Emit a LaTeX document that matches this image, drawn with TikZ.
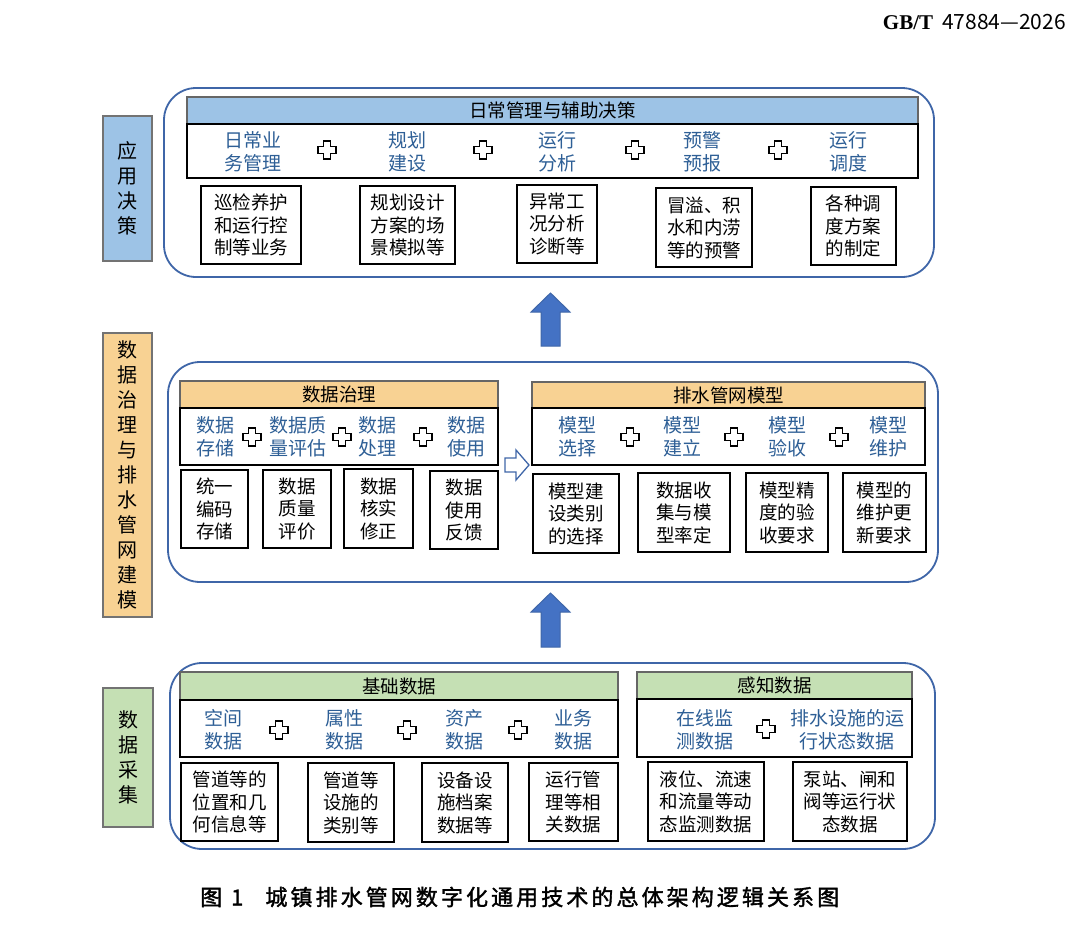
\documentclass[tikz,border=0pt]{standalone}
\usepackage{fontspec}
\setmainfont{Noto Sans CJK SC}
\newfontfamily\capfont[LetterSpace=14,FakeBold=1.6]{Noto Sans CJK SC}
\newfontfamily\gbserif{Liberation Serif}
\newfontfamily\gbsans{Noto Sans CJK SC}
\newcommand\dfnt{\fontsize{18.5}{22.5}\selectfont}
\newcommand\bfnt{\fontsize{19}{23}\selectfont}
\newcommand\hfnt{\fontsize{18.5}{22}\selectfont}
\newcommand\lfnt{\fontsize{20}{25}\selectfont}
\definecolor{lblue}{HTML}{9DC3E6}
\definecolor{lorange}{HTML}{F8D293}
\definecolor{lgreen}{HTML}{C5E0B4}
\definecolor{outblue}{HTML}{3F66A8}
\definecolor{txtblue}{HTML}{2E5F96}
\definecolor{arrblue}{HTML}{4472C4}
\usetikzlibrary{positioning}
\tikzset{
  outerbox/.style={draw=outblue, line width=1.8pt, rounded corners=32pt},
  lab/.style={draw=black!55, line width=1.3pt, inner sep=0pt, align=center, font=\lfnt},
  hdr/.style={draw=black!60, line width=1.2pt, inner sep=0pt, font=\hfnt},
  rowbox/.style={draw=black, line width=1.6pt, fill=white, inner sep=0pt},
  det/.style={draw=black, line width=1.6pt, fill=white, inner sep=0pt, align=center, font=\dfnt},
  btxt/.style={text=txtblue, align=center, font=\bfnt, inner sep=0pt},
  plusline/.style={draw=black, line width=1.9pt, fill=white, line join=miter},
  uparrowshape/.style={fill=arrblue, draw=outblue, line width=1pt},
  hollowarrow/.style={fill=white, draw=outblue, line width=1.3pt},
  pluscross/.pic={\path[plusline] (-3.5,-9) -- (3.5,-9) -- (3.5,-3.5) -- (9,-3.5) -- (9,3.5) -- (3.5,3.5) -- (3.5,9) -- (-3.5,9) -- (-3.5,3.5) -- (-9,3.5) -- (-9,-3.5) -- (-3.5,-3.5) -- cycle;}
}
\begin{document}
\begin{tikzpicture}[x=1pt,y=-1pt]
\useasboundingbox[fill=white] (0,0) rectangle (1080,927);

% header reference
\node[anchor=east, inner sep=0pt] (gbt) at (1066,22) {\fontsize{21}{21}\selectfont{\gbserif\bfseries GB/T}\hspace{9pt}{\gbsans 47884—2026}};

% ===== top section =====
\node[lab, fill=lblue, minimum width=49, minimum height=145] (lab1) at (127.5,188.5) {应\\用\\决\\策};
\node[outerbox, minimum width=770, minimum height=189] (out1) at (549,182.5) {};
\node[hdr, fill=lblue, minimum width=731, minimum height=27] (hd1) at (552.5,110.5) {日常管理与辅助决策};
\node[rowbox, minimum width=731, minimum height=54] (row1) at (552.5,151) {};
\node[btxt] (a1) at (253,151.5) {日常业\\务管理};
\node[btxt] (a2) at (407,151.5) {规划\\建设};
\node[btxt] (a3) at (557,151.5) {运行\\分析};
\node[btxt] (a4) at (702,151.5) {预警\\预报};
\node[btxt] (a5) at (848,151.5) {运行\\调度};
\pic at (327,150) {pluscross};
\pic at (483,150) {pluscross};
\pic at (635,150) {pluscross};
\pic at (778,150) {pluscross};
\node[det, minimum width=100, minimum height=78] (t1) at (251,225) {巡检养护\\和运行控\\制等业务};
\node[det, minimum width=95, minimum height=78] (t2) at (407.5,225) {规划设计\\方案的场\\景模拟等};
\node[det, minimum width=80, minimum height=78] (t3) at (557,224) {异常工\\况分析\\诊断等};
\node[det, minimum width=96, minimum height=79] (t4) at (704,227.5) {冒溢、积\\水和内涝\\等的预警};
\node[det, minimum width=85, minimum height=78] (t5) at (853.5,226) {各种调\\度方案\\的制定};

% up arrow 1
\path[uparrowshape] (550.5,293) -- (570,312) -- (560,312) -- (560,346) -- (541,346) -- (541,312) -- (531,312) -- cycle;

% ===== middle section =====
\node[lab, fill=lorange, minimum width=49, minimum height=284] (lab2) at (127.5,475) {数\\据\\治\\理\\与\\排\\水\\管\\网\\建\\模};
\node[outerbox, minimum width=770, minimum height=220] (out2) at (553,472) {};
\node[hdr, fill=lorange, minimum width=318, minimum height=27] (hdL) at (339,394.5) {数据治理};
\node[rowbox, minimum width=318, minimum height=57] (rowL) at (339,436.5) {};
\node[btxt] (g1) at (215,437) {数据\\存储};
\node[btxt] (g2) at (298,437) {数据质\\量评估};
\node[btxt] (g3) at (377,437) {数据\\处理};
\node[btxt] (g4) at (466,437) {数据\\使用};
\pic at (252,437) {pluscross};
\pic at (342,437) {pluscross};
\pic at (423,437) {pluscross};
\node[det, minimum width=67, minimum height=78] (m1) at (214.5,509) {统一\\编码\\存储};
\node[det, minimum width=68, minimum height=78] (m2) at (297,509) {数据\\质量\\评价};
\node[det, minimum width=69, minimum height=79] (m3) at (378.5,508.5) {数据\\核实\\修正};
\node[det, minimum width=68, minimum height=78] (m4) at (464,510) {数据\\使用\\反馈};

\path[hollowarrow] (505,458) -- (516,458) -- (516,450) -- (529,465) -- (516,480) -- (516,472) -- (505,472) -- cycle;

\node[hdr, fill=lorange, minimum width=393, minimum height=26] (hdR) at (728.5,395) {排水管网模型};
\node[rowbox, minimum width=393, minimum height=57] (rowR) at (728.5,436.5) {};
\node[btxt] (p1) at (577,437) {模型\\选择};
\node[btxt] (p2) at (682,437) {模型\\建立};
\node[btxt] (p3) at (787,437) {模型\\验收};
\node[btxt] (p4) at (888,437) {模型\\维护};
\pic at (630,437) {pluscross};
\pic at (734,437) {pluscross};
\pic at (839,437) {pluscross};
\node[det, minimum width=86, minimum height=79] (r1) at (576,513.5) {模型建\\设类别\\的选择};
\node[det, minimum width=92, minimum height=79] (r2) at (684,512.5) {数据收\\集与模\\型率定};
\node[det, minimum width=82, minimum height=79] (r3) at (787,512.5) {模型精\\度的验\\收要求};
\node[det, minimum width=83, minimum height=79] (r4) at (884.5,512.5) {模型的\\维护更\\新要求};

% up arrow 2
\path[uparrowshape] (550.5,593) -- (570,612) -- (560,612) -- (560,647) -- (541,647) -- (541,612) -- (531,612) -- cycle;

% ===== bottom section =====
\node[lab, fill=lgreen, minimum width=50, minimum height=139] (lab3) at (128,757.5) {数\\据\\采\\集};
\node[outerbox, minimum width=765, minimum height=186] (out3) at (552.5,756) {};
\node[hdr, fill=lgreen, minimum width=438, minimum height=28] (hdB1) at (399,686) {基础数据};
\node[rowbox, minimum width=438, minimum height=57] (rowB1) at (399,728.5) {};
\node[btxt] (c1) at (223,730) {空间\\数据};
\node[btxt] (c2) at (344,730) {属性\\数据};
\node[btxt] (c3) at (464,730) {资产\\数据};
\node[btxt] (c4) at (573,730) {业务\\数据};
\pic at (279,730) {pluscross};
\pic at (407,730) {pluscross};
\pic at (518,730) {pluscross};
\node[det, minimum width=97, minimum height=78] (b1) at (229.5,802) {管道等的\\位置和几\\何信息等};
\node[det, minimum width=86, minimum height=79] (b2) at (351,802.5) {管道等\\设施的\\类别等};
\node[det, minimum width=86, minimum height=79] (b3) at (465,802.5) {设备设\\施档案\\数据等};
\node[det, minimum width=89, minimum height=78] (b4) at (573.5,802) {运行管\\理等相\\关数据};

\node[hdr, fill=lgreen, minimum width=275, minimum height=27] (hdB2) at (774.5,685.5) {感知数据};
\node[rowbox, minimum width=275, minimum height=58] (rowB2) at (774.5,728) {};
\node[btxt] (s1t) at (705,730) {在线监\\测数据};
\node[btxt] (s2t) at (847,730) {排水设施的运\\行状态数据};
\pic at (766,729) {pluscross};
\node[det, minimum width=116, minimum height=79] (s1) at (706,801.5) {液位、流速\\和流量等动\\态监测数据};
\node[det, minimum width=114, minimum height=79] (s2) at (850,801.5) {泵站、闸和\\阀等运行状\\态数据};

% caption
\node[anchor=west, inner sep=0pt] (cap) at (200,897) {\capfont\fontsize{22}{22}\selectfont 图\hspace{9pt}1\hspace{22pt}城镇排水管网数字化通用技术的总体架构逻辑关系图};
\end{tikzpicture}
\end{document}
